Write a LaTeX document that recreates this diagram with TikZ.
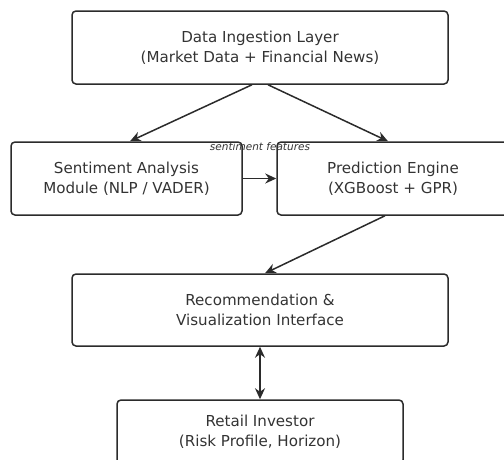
\documentclass[tikz,border=0pt]{standalone}
\usepackage{fontspec}
\setmainfont{DejaVu Sans}
\usepackage{tikz}
\usetikzlibrary{arrows.meta,positioning}

\definecolor{linegray}{HTML}{2B2B2B}
\definecolor{textgray}{HTML}{333333}

\tikzset{
  block/.style={draw=linegray, line width=1.5pt, rounded corners=4pt,
    align=center, text=textgray, font=\fontsize{15.1}{20}\selectfont},
  flow/.style={draw=linegray, line width=1.5pt, -{Stealth[length=11pt,width=10pt]}}
}

\begin{document}
\begin{tikzpicture}[x=1pt,y=-1pt]
  \useasboundingbox (0,0) rectangle (504,459);

  \node[block, minimum width=376pt, minimum height=73pt] (ingest) at (260,47.5)
    {Data Ingestion Layer\\(Market Data + Financial News)};
  \node[block, minimum width=231pt, minimum height=73pt] (senti) at (126.5,178.5)
    {Sentiment Analysis\\Module (NLP / VADER)};
  \node[block, minimum width=232pt, minimum height=73pt] (predict) at (393,178.5)
    {Prediction Engine\\(XGBoost + GPR)};
  \node[block, minimum width=376pt, minimum height=72pt] (recommend) at (260,310)
    {Recommendation \&\\Visualization Interface};
  \node[block, minimum width=286pt, minimum height=64pt] (investor) at (260,432)
    {Retail Investor\\(Risk Profile, Horizon)};

  \node[text=textgray, font=\itshape\fontsize{10.5}{12}\selectfont] (featlabel) at (260,147)
    {sentiment features};

  \draw[flow] ([xshift=-8pt]ingest.south) -- ([xshift=3.5pt]senti.north);
  \draw[flow] ([xshift=8pt]ingest.south) -- ([xshift=-5pt]predict.north);
  \draw[flow] (senti.east) -- (predict.west);
  \draw[flow] ([xshift=-8pt]predict.south) -- ([xshift=5pt]recommend.north);
  \draw[flow, {Stealth[length=11pt,width=10pt]}-{Stealth[length=11pt,width=10pt]}] (recommend.south) -- (investor.north);
\end{tikzpicture}
\end{document}
